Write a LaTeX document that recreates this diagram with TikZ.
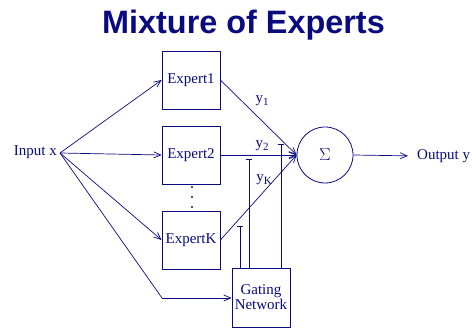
\documentclass[tikz,border=0pt]{standalone}
\usepackage{fontspec}
\setmainfont{Liberation Serif}
\newfontfamily\titlefont{Liberation Sans}
\usetikzlibrary{arrows.meta}
\definecolor{navy}{RGB}{10,10,128}
\tikzset{
  box/.style={draw=navy, line width=0.8pt, rectangle, minimum width=58pt, minimum height=58pt, inner sep=0pt, text=navy, font=\fontsize{15}{16}\selectfont},
  sumnode/.style={draw=navy, line width=0.8pt, circle, minimum size=56pt, inner sep=0pt, text=navy, font=\fontsize{17}{18}\selectfont},
  lbl/.style={text=navy, inner sep=0pt, font=\fontsize{15}{16}\selectfont},
  arr/.style={draw=navy, line width=0.7pt, -{Straight Barb[length=7pt,width=6pt,line width=0.7pt]}},
  wire/.style={draw=navy, line width=0.7pt},
  gate/.style={draw=navy, line width=0.8pt, -{Bar[width=6pt,line width=0.8pt]}},
  dot/.style={fill=navy, circle, inner sep=0pt, minimum size=2.2pt}
}
\newcommand{\ysub}[1]{y\raisebox{-0.35ex}{\fontsize{11}{12}\selectfont #1}}
\begin{document}
\begin{tikzpicture}[x=1pt, y=-1pt]
\useasboundingbox (0,0) rectangle (472,328);

% title
\node[anchor=base, text=navy, inner sep=0pt, font=\titlefont\bfseries\fontsize{32.4}{34}\selectfont] (title) at (243.5,34) {Mixture of Experts};

% input
\node[lbl, anchor=east] (input) at (57,152) {Input x};
\coordinate (src) at (60,153);

% experts
\node[box] (e1) at (191,80) {Expert1};
\node[box] (e2) at (191,155) {Expert2};
\node[box] (ek) at (191,240) {ExpertK};
\node[dot] (d1) at (192,187) {};
\node[dot] (d2) at (192,197) {};
\node[dot] (d3) at (192,207) {};

% gating network
\node[box, minimum height=59pt, align=center, font=\fontsize{15}{15}\selectfont] (gn) at (261,297.5) {Gating\\Network};

% summation and output
\node[sumnode] (sum) at (325,155) {$\Sigma$};
\node[lbl, anchor=west] (out) at (417,156) {Output y};

% input connections
\draw[arr] (src) -- (e1.west);
\draw[arr] (src) -- (e2.west);
\draw[arr] (src) -- (ek.west);
\coordinate (bend) at (162,298);
\draw[wire] (src) -- (bend);
\draw[arr] (bend) -- (gn.west |- bend);

% expert outputs
\draw[arr] (e1.east) -- (sum.west);
\draw[arr] (e2.east) -- (sum.west);
\draw[arr] (ek.east) -- (sum.west);
\node[lbl] (l1) at (262,101) {\ysub{1}};
\node[lbl] (l2) at (262,146) {\ysub{2}};
\node[lbl] (lk) at (264,180) {\ysub{K}};

% gating weights
\coordinate (g1) at (240,226);
\coordinate (g2) at (249,159);
\coordinate (g3) at (281,144);
\draw[gate] (gn.north -| g1) -- (g1);
\draw[gate] (gn.north -| g2) -- (g2);
\draw[gate] (gn.north -| g3) -- (g3);

% output
\draw[arr, shorten >=9pt] (sum.east) -- (out.west);
\end{tikzpicture}
\end{document}
